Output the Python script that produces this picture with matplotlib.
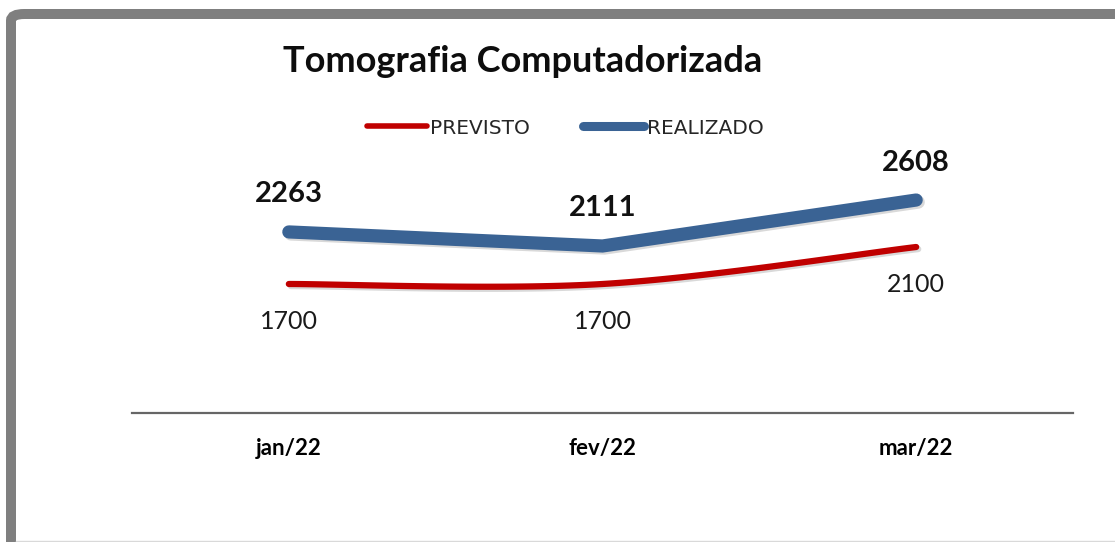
import numpy as np
import matplotlib
matplotlib.use("Agg")
import matplotlib.pyplot as plt
import matplotlib.patheffects as pe
from matplotlib.patches import FancyBboxPatch
from matplotlib.lines import Line2D

# dados
meses = ["jan/22", "fev/22", "mar/22"]
previsto = [1700, 1700, 2100]
realizado = [2263, 2111, 2608]

plt.rcParams['font.family'] = ['Lato', 'DejaVu Sans']

AZUL = "#3a6394"
VERMELHO = "#c00000"


def suavizar(xs, ys, n=40):
    # curva suavizada tipo Excel (Catmull-Rom em forma de Bezier)
    p = np.column_stack([xs, ys]).astype(float)
    pts = np.vstack([p[0], p, p[-1]])
    out = []
    t = np.linspace(0, 1, n)[:, None]
    for i in range(1, len(pts) - 2):
        p0, p3 = pts[i], pts[i + 1]
        p1 = p0 + (pts[i + 1] - pts[i - 1]) / 6
        p2 = p3 - (pts[i + 2] - pts[i]) / 6
        seg = ((1 - t) ** 3) * p0 + 3 * ((1 - t) ** 2) * t * p1 + 3 * (1 - t) * t ** 2 * p2 + t ** 3 * p3
        out.append(seg if i == 1 else seg[1:])
    out = np.vstack(out)
    return out[:, 0], out[:, 1]


W, H = 1115, 542
fig = plt.figure(figsize=(W / 100, H / 100), dpi=100)

# moldura cinza
moldura = FancyBboxPatch((11 / W, -0.2), 1.3, 1.2 - 14 / H,
                         boxstyle="round,pad=0,rounding_size=0.012",
                         transform=fig.transFigure, facecolor="none",
                         edgecolor="#7f7f7f", linewidth=7.2, zorder=0)
fig.patches.append(moldura)
fig.add_artist(Line2D([16 / W, 1], [1 - 541 / H] * 2, color="#d9d9d9", lw=1,
                      transform=fig.transFigure))

ax = fig.add_axes([132 / W, 1 - 413 / H, (1073 - 132) / W, (413 - 150) / H])
ax.set_facecolor("none")
x = np.arange(len(meses))

sombra = [pe.SimpleLineShadow(offset=(1.5, -1.5), alpha=0.15), pe.Normal()]

xs, ys = suavizar(x, previsto)
ax.plot(xs, ys, color=VERMELHO, lw=4.5, solid_capstyle="round", path_effects=sombra)
ax.plot(x, realizado, color=AZUL, lw=9.5, solid_capstyle="round",
        solid_joinstyle="miter", path_effects=sombra)

for xi, v in zip(x, previsto):
    ax.annotate(str(v), (xi, v), xytext=(0, -27), textcoords="offset points",
                ha="center", va="center", fontsize=18, color="#1a1a1a")
for xi, v in zip(x, realizado):
    ax.annotate(str(v), (xi, v), xytext=(0, 27), textcoords="offset points",
                ha="center", va="center", fontsize=21, fontweight="bold", color="#111111")

ax.set_xlim(-0.5, 2.5)
ax.set_ylim(305, 3149)
ax.set_xticks(x)
ax.set_xticklabels(meses, fontsize=16, fontweight="bold")
ax.tick_params(axis="x", length=0, pad=18)
ax.set_yticks([])
for s in ["top", "right", "left"]:
    ax.spines[s].set_visible(False)
ax.spines["bottom"].set_color("#666666")
ax.spines["bottom"].set_linewidth(1.6)

fig.text(523 / W, 1 - 62 / H, "Tomografia Computadorizada", ha="center", va="center",
         fontsize=26, fontweight="bold", color="#0d0d0d")

handles = [Line2D([], [], color=VERMELHO, lw=4, solid_capstyle="round"),
           Line2D([], [], color=AZUL, lw=6.5, solid_capstyle="round")]
leg = fig.legend(handles, ["PREVISTO", "REALIZADO"], loc="center",
                 bbox_to_anchor=(565 / W, 1 - 128 / H), ncol=2, frameon=False,
                 handlelength=3.0, handletextpad=0.15, columnspacing=2.65,
                 prop={"family": "DejaVu Sans", "size": 14.5})
for t in leg.get_texts():
    t.set_color("#262626")

fig.savefig("out.png", dpi=100, facecolor="white")
